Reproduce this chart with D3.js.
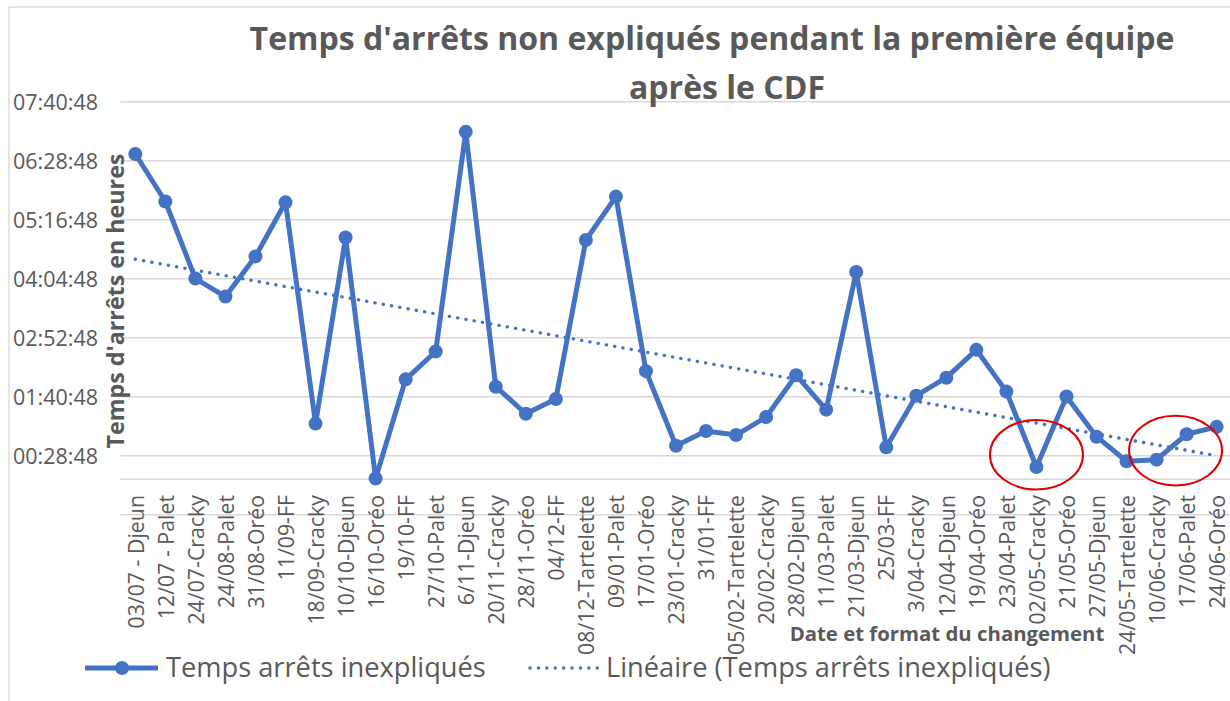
<!DOCTYPE html>
<html>
<head>
<meta charset="utf-8">
<script src="https://cdn.jsdelivr.net/npm/d3@7"></script>
<style>
  body { margin: 0; background: #fff; }
  svg { display: block; font-family: "Open Sans", Lato, sans-serif; }
</style>
</head>
<body>
<svg id="chart" width="1230" height="701"></svg>
<script>
// categories = date + format of the changeover
var categories = ["03/07 - Djeun", "12/07 - Palet", "24/07-Cracky", "24/08-Palet", "31/08-Oréo", "11/09-FF",
    "18/09-Cracky", "10/10-Djeun", "16/10-Oréo", "19/10-FF", "27/10-Palet", "6/11-Djeun", "20/11-Cracky",
    "28/11-Oréo", "04/12-FF", "08/12-Tartelette", "09/01-Palet", "17/01-Oréo", "23/01-Cracky", "31/01-FF",
    "05/02-Tartelette", "20/02-Cracky", "28/02-Djeun", "11/03-Palet", "21/03-Djeun", "25/03-FF", "3/04-Cracky",
    "12/04-Djeun", "19/04-Oréo", "23/04-Palet", "02/05-Cracky", "21/05-Oréo", "27/05-Djeun", "24/05-Tartelette",
    "10/06-Cracky", "17/06-Palet", "24/06-Oréo"];

// unexplained downtime, in minutes
var minutes = [397, 339, 245, 223, 272, 338, 68, 295, 1, 122, 156, 424, 113, 80, 98, 292, 345, 132, 41, 59,
    54, 76, 127, 85, 253, 39, 102, 124, 158, 107, 15, 101, 52, 22, 24, 55, 64];

// y axis ticks in minutes (Excel axis from -00:43:12, step 01:12:00)
var yTicks = [-43.2, 28.8, 100.8, 172.8, 244.8, 316.8, 388.8, 460.8];

// red circles drawn on the chart: category position (index) and value in minutes
var highlights = [
    { at: 30, value: 30 },
    { at: 34.63, value: 35 }
];

var titleLines = ["Temps d'arrêts non expliqués pendant la première équipe", "après le CDF"];
var seriesName = "Temps arrêts inexpliqués";
var trendName = "Linéaire (Temps arrêts inexpliqués)";

var blue = "#4472C4",
    grey = "#595959",
    gridColor = "#d9d9d9";

var svg = d3.select("#chart");

var plot = { left: 120.3, right: 1231.7, top: 101.7, bottom: 514.7 };

var x = d3.scalePoint().domain(categories).range([plot.left, plot.right]).padding(0.5);
var y = d3.scaleLinear().domain([-43.2, 460.8]).range([plot.bottom, plot.top]);
var step = x.step();
var xAt = function(i) { return x(categories[0]) + i * step; };

var fmt = function(m) {
    var s = Math.round(m * 60);
    var h = Math.floor(s / 3600), mm = Math.floor((s % 3600) / 60), ss = s % 60;
    return d3.format("02d")(h) + ":" + d3.format("02d")(mm) + ":" + d3.format("02d")(ss);
};

// resize the font so that one text node gets the given length
var fitSize = function(node, length) {
    var size = parseFloat(d3.select(node).attr("font-size"));
    return size * length / node.getComputedTextLength();
};

// chart border
svg.append("rect")
    .attr("x", 9).attr("y", 7)
    .attr("width", 1240).attr("height", 720)
    .attr("fill", "none")
    .attr("stroke", gridColor)
    .attr("stroke-width", 1.3);

// gridlines
svg.append("g")
    .selectAll("line")
    .data(yTicks)
    .enter().append("line")
    .attr("x1", plot.left).attr("x2", plot.right)
    .attr("y1", function(d) { return y(d); })
    .attr("y2", function(d) { return y(d); })
    .attr("stroke", gridColor)
    .attr("stroke-width", 1.5);

// category axis line at 0
svg.append("line")
    .attr("x1", plot.left).attr("x2", plot.right)
    .attr("y1", y(0)).attr("y2", y(0))
    .attr("stroke", gridColor)
    .attr("stroke-width", 1.5);

// y tick labels (no label for the negative bottom tick)
var yAxis = d3.axisLeft(y).tickValues(yTicks.filter(function(d) { return d > 0; }))
    .tickFormat(fmt).tickSize(0).tickPadding(0);
var yg = svg.append("g")
    .attr("transform", "translate(98,0)")
    .call(yAxis);
yg.select(".domain").remove();
yg.selectAll("text")
    .attr("fill", grey)
    .attr("font-size", 20)
    .attr("font-family", "'Open Sans', sans-serif")
    .attr("dy", "0.36em");
var ySize = fitSize(yg.select("text").node(), 85);
yg.selectAll("text").attr("font-size", ySize);

// x tick labels, rotated
var xAxis = d3.axisBottom(x).tickSize(0).tickPadding(0);
var xg = svg.append("g")
    .attr("transform", "translate(0,495)")
    .call(xAxis);
xg.select(".domain").remove();
xg.selectAll("text")
    .attr("fill", grey)
    .attr("font-size", 19)
    .attr("font-family", "'Open Sans', sans-serif")
    .attr("text-anchor", "end")
    .attr("transform", "rotate(-90)")
    .attr("x", 0)
    .attr("y", 0)
    .attr("dy", "0.36em");
var xSize = fitSize(xg.selectAll("text").filter(function(d) { return d === "24/05-Tartelette"; }).node(), 160);
xg.selectAll("text").attr("font-size", xSize);

// linear trend (least squares on the series)
var n = minutes.length;
var xs = d3.range(1, n + 1);
var mx = d3.mean(xs), my = d3.mean(minutes);
var slope = d3.sum(xs, function(v, i) { return (v - mx) * (minutes[i] - my); }) /
    d3.sum(xs, function(v) { return (v - mx) * (v - mx); });
var icpt = my - slope * mx;

svg.append("line")
    .attr("x1", x(categories[0]))
    .attr("y1", y(icpt + slope * 1))
    .attr("x2", x(categories[n - 1]))
    .attr("y2", y(icpt + slope * n))
    .attr("stroke", blue)
    .attr("stroke-width", 3.4)
    .attr("stroke-linecap", "round")
    .attr("stroke-dasharray", "0.1 8.3");

// series line + markers
var line = d3.line()
    .x(function(d, i) { return x(categories[i]); })
    .y(function(d) { return y(d); });

svg.append("path")
    .datum(minutes)
    .attr("d", line)
    .attr("fill", "none")
    .attr("stroke", blue)
    .attr("stroke-width", 5)
    .attr("stroke-linejoin", "round");

svg.append("g")
    .selectAll("circle")
    .data(minutes)
    .enter().append("circle")
    .attr("cx", function(d, i) { return x(categories[i]); })
    .attr("cy", function(d) { return y(d); })
    .attr("r", 7)
    .attr("fill", blue);

// red highlight ellipses
svg.append("g")
    .selectAll("ellipse")
    .data(highlights)
    .enter().append("ellipse")
    .attr("cx", function(d) { return xAt(d.at); })
    .attr("cy", function(d) { return y(d.value); })
    .attr("rx", 46.5)
    .attr("ry", 34.8)
    .attr("fill", "none")
    .attr("stroke", "#e00000")
    .attr("stroke-width", 2);

// title, sized on its first line
var title1 = svg.append("text")
    .text(titleLines[0])
    .attr("text-anchor", "middle")
    .attr("fill", grey)
    .attr("font-weight", 700)
    .attr("font-size", 30)
    .attr("x", 712)
    .attr("y", 50);
var titleSize = fitSize(title1.node(), 925);
title1.attr("font-size", titleSize);
svg.append("text")
    .text(titleLines[1])
    .attr("text-anchor", "middle")
    .attr("fill", grey)
    .attr("font-weight", 700)
    .attr("font-size", titleSize)
    .attr("x", 727)
    .attr("y", 99);

// axis titles
var yTitle = svg.append("text")
    .text("Temps d'arrêts en heures")
    .attr("fill", grey)
    .attr("font-weight", 700)
    .attr("font-size", 20)
    .attr("text-anchor", "middle")
    .attr("transform", "translate(124,301) rotate(-90)");
yTitle.attr("font-size", fitSize(yTitle.node(), 295));

var xTitle = svg.append("text")
    .text("Date et format du changement")
    .attr("fill", grey)
    .attr("font-weight", 700)
    .attr("font-size", 19)
    .attr("text-anchor", "middle")
    .attr("x", 947)
    .attr("y", 641);
xTitle.attr("font-size", fitSize(xTitle.node(), 315));

// legend
var legend = svg.append("g").attr("transform", "translate(0,668)");
legend.append("line")
    .attr("x1", 85).attr("x2", 158)
    .attr("stroke", blue).attr("stroke-width", 5);
legend.append("circle")
    .attr("cx", 122).attr("r", 7).attr("fill", blue);
var leg1 = legend.append("text")
    .text(seriesName)
    .attr("x", 166).attr("y", 9)
    .attr("fill", grey)
    .attr("font-size", 26);
var legSize = fitSize(leg1.node(), 320);
leg1.attr("font-size", legSize);

legend.append("line")
    .attr("x1", 530).attr("x2", 598)
    .attr("stroke", blue).attr("stroke-width", 3.4)
    .attr("stroke-linecap", "round")
    .attr("stroke-dasharray", "0.1 8.3");
legend.append("text")
    .text(trendName)
    .attr("x", 606).attr("y", 9)
    .attr("fill", grey)
    .attr("font-size", legSize);
</script>
</body>
</html>
